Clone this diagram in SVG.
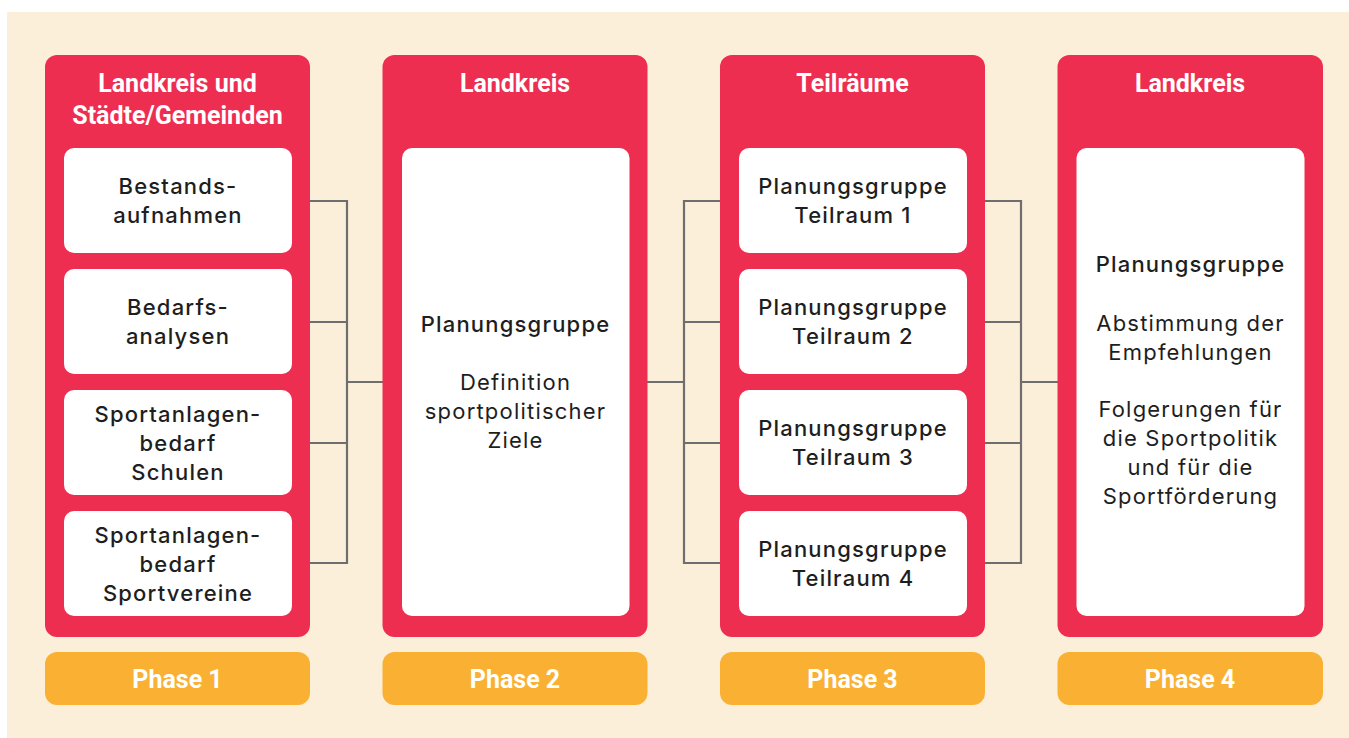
<svg xmlns="http://www.w3.org/2000/svg" width="1349" height="738" viewBox="0 0 1349 738">
<style>
.bg{fill:#FCEFDA}
.col{fill:#EE2E50}
.cell{fill:#FFFFFF}
.phase{fill:#FAB133}
.title{font-family:Roboto,"Liberation Sans",sans-serif;font-weight:700;font-size:25px;fill:#FFFFFF;text-anchor:middle}
.ph{font-family:Roboto,"Liberation Sans",sans-serif;font-weight:700;font-size:25px;fill:#FFFFFF;text-anchor:middle}
.t{font-family:Inter,"Open Sans","DejaVu Sans",sans-serif;font-weight:400;font-size:22px;letter-spacing:1.2px;fill:#1E1E1E;text-anchor:middle}
.m{font-weight:500}
.conn{fill:none;stroke:#6E6E6E;stroke-width:2.2}
</style>
<rect class="bg" x="7" y="12" width="1342" height="726"/>
<g id="connectors">
<path class="conn" d="M310 201 H347 V563 H310 M310 322 H347 M310 443 H347 M347 382 H383"/>
<path class="conn" d="M647 382 H684 M721 201 H684 V563 H721 M684 322 H721 M684 443 H721"/>
<path class="conn" d="M984 201 H1021 V563 H984 M984 322 H1021 M984 443 H1021 M1021 382 H1058"/>
</g>
<g id="phase1-column">
<rect class="col" x="45" y="55" width="265" height="582" rx="12"/>
<text class="title" x="177.5" y="92">Landkreis und</text>
<text class="title" x="177.5" y="124">Städte/Gemeinden</text>
</g>
<g id="bestandsaufnahmen">
<rect class="cell" x="64" y="148" width="228" height="105" rx="10"/>
<text class="t m" x="178" y="194">Bestands-</text>
<text class="t m" x="178" y="223">aufnahmen</text>
</g>
<g id="bedarfsanalysen">
<rect class="cell" x="64" y="269" width="228" height="105" rx="10"/>
<text class="t m" x="178" y="315">Bedarfs-</text>
<text class="t m" x="178" y="344">analysen</text>
</g>
<g id="sportanlagen-schulen">
<rect class="cell" x="64" y="390" width="228" height="105" rx="10"/>
<text class="t m" x="178" y="421.5">Sportanlagen-</text>
<text class="t m" x="178" y="450.5">bedarf</text>
<text class="t m" x="178" y="479.5">Schulen</text>
</g>
<g id="sportanlagen-vereine">
<rect class="cell" x="64" y="511" width="228" height="105" rx="10"/>
<text class="t m" x="178" y="542.5">Sportanlagen-</text>
<text class="t m" x="178" y="571.5">bedarf</text>
<text class="t m" x="178" y="600.5">Sportvereine</text>
</g>
<g id="phase1">
<rect class="phase" x="45" y="652" width="265" height="53" rx="12"/>
<text class="ph" x="177.5" y="688">Phase 1</text>
</g>
<g id="phase2-column">
<rect class="col" x="382.5" y="55" width="265" height="582" rx="12"/>
<text class="title" x="515" y="92">Landkreis</text>
</g>
<g id="planungsgruppe-ziele">
<rect class="cell" x="402" y="148" width="227.5" height="468" rx="10"/>
<text class="t m" x="515.5" y="332">Planungsgruppe</text>
<text class="t" x="515.5" y="390">Definition</text>
<text class="t" x="515.5" y="419">sportpolitischer</text>
<text class="t" x="515.5" y="448">Ziele</text>
</g>
<g id="phase2">
<rect class="phase" x="382.5" y="652" width="265" height="53" rx="12"/>
<text class="ph" x="515" y="688">Phase 2</text>
</g>
<g id="phase3-column">
<rect class="col" x="720" y="55" width="265" height="582" rx="12"/>
<text class="title" x="852.5" y="92">Teilräume</text>
</g>
<g id="teilraum1">
<rect class="cell" x="739" y="148" width="228" height="105" rx="10"/>
<text class="t m" x="853" y="194">Planungsgruppe</text>
<text class="t m" x="853" y="223">Teilraum 1</text>
</g>
<g id="teilraum2">
<rect class="cell" x="739" y="269" width="228" height="105" rx="10"/>
<text class="t m" x="853" y="315">Planungsgruppe</text>
<text class="t m" x="853" y="344">Teilraum 2</text>
</g>
<g id="teilraum3">
<rect class="cell" x="739" y="390" width="228" height="105" rx="10"/>
<text class="t m" x="853" y="436">Planungsgruppe</text>
<text class="t m" x="853" y="465">Teilraum 3</text>
</g>
<g id="teilraum4">
<rect class="cell" x="739" y="511" width="228" height="105" rx="10"/>
<text class="t m" x="853" y="557">Planungsgruppe</text>
<text class="t m" x="853" y="586">Teilraum 4</text>
</g>
<g id="phase3">
<rect class="phase" x="720" y="652" width="265" height="53" rx="12"/>
<text class="ph" x="852.5" y="688">Phase 3</text>
</g>
<g id="phase4-column">
<rect class="col" x="1057.5" y="55" width="265.5" height="582" rx="12"/>
<text class="title" x="1190" y="92">Landkreis</text>
</g>
<g id="planungsgruppe-empfehlungen">
<rect class="cell" x="1076.5" y="148" width="228" height="468" rx="10"/>
<text class="t m" x="1190.5" y="272">Planungsgruppe</text>
<text class="t" x="1190.5" y="330.5">Abstimmung der</text>
<text class="t" x="1190.5" y="359.5">Empfehlungen</text>
<text class="t" x="1190.5" y="417">Folgerungen für</text>
<text class="t" x="1190.5" y="446">die Sportpolitik</text>
<text class="t" x="1190.5" y="475">und für die</text>
<text class="t" x="1190.5" y="504">Sportförderung</text>
</g>
<g id="phase4">
<rect class="phase" x="1057.5" y="652" width="265.5" height="53" rx="12"/>
<text class="ph" x="1190" y="688">Phase 4</text>
</g>
</svg>
